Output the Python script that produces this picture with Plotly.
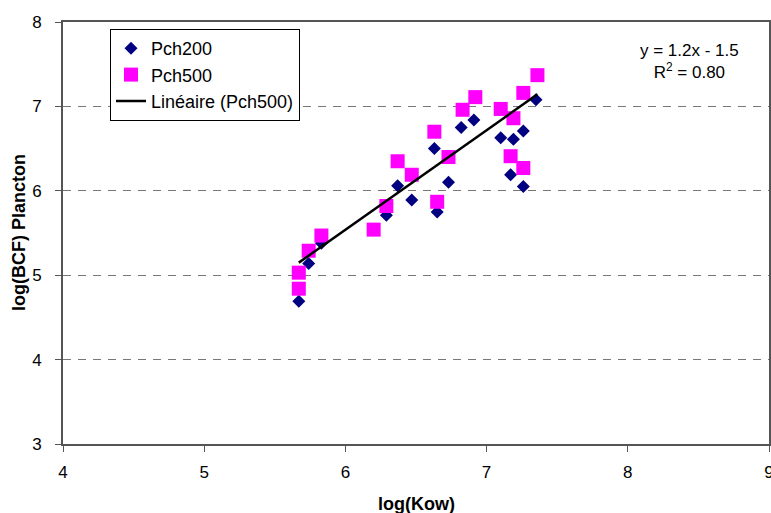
import numpy as np
import plotly.graph_objects as go

# Data
pch200_x = [5.67, 5.74, 5.83, 6.29, 6.37, 6.47, 6.63, 6.65, 6.73, 6.82, 6.91,
            7.10, 7.19, 7.26, 7.17, 7.26, 7.35]
pch200_y = [4.69, 5.14, 5.38, 5.71, 6.06, 5.89, 6.50, 5.75, 6.10, 6.75, 6.84,
            6.63, 6.61, 6.71, 6.19, 6.05, 7.08]

pch500_x = [5.67, 5.67, 5.74, 5.83, 6.20, 6.29, 6.37, 6.47, 6.63, 6.65, 6.73,
            6.83, 6.92, 7.10, 7.19, 7.26, 7.17, 7.26, 7.36]
pch500_y = [5.03, 4.84, 5.29, 5.47, 5.54, 5.82, 6.35, 6.19, 6.70, 5.87, 6.40,
            6.96, 7.11, 6.97, 6.86, 7.16, 6.41, 6.27, 7.37]

x_ticks = [4, 5, 6, 7, 8, 9]
y_ticks = [3, 4, 5, 6, 7, 8]

# Linear trendline on Pch500
slope, intercept = np.polyfit(pch500_x, pch500_y, 1)
fit_x = np.array([min(pch500_x), max(pch500_x)])
fit_y = slope * fit_x + intercept

FONT = "Arial, Liberation Sans, sans-serif"

# plot area geometry (pixels)
L, R, T, B = 63, 769, 22, 444
W, H = R - L, B - T

fig = go.Figure()
fig.add_trace(go.Scatter(
    x=pch200_x, y=pch200_y, mode="markers", name="Pch200", legendgroup="a",
    marker=dict(symbol="diamond", size=10, color="#000080"),
))
fig.add_trace(go.Scatter(
    x=pch500_x, y=pch500_y, mode="markers", name="Pch500", legendgroup="b",
    marker=dict(symbol="square", size=14, color="#FF00FF"),
))
fig.add_trace(go.Scatter(
    x=fit_x, y=fit_y, mode="lines", name="Linéaire (Pch500)", legendgroup="c",
    line=dict(color="black", width=2.5),
))

# Equation annotation
fig.add_annotation(
    xref="paper", yref="paper", x=(689 - L) / W, y=(B - 62) / H,
    xanchor="center", yanchor="middle", showarrow=False,
    text="y = 1.2x - 1.5<br>R<sup>2</sup> = 0.80", align="center",
    font=dict(family=FONT, size=17, color="black"),
)
# Axis titles
fig.add_annotation(
    xref="paper", yref="paper", x=0.5, y=(B - 504) / H,
    xanchor="center", yanchor="middle", showarrow=False,
    text="<b>log(Kow)</b>", font=dict(family=FONT, size=18, color="black"),
)
fig.add_annotation(
    xref="paper", yref="paper", x=(19 - L) / W, y=0.5,
    xanchor="center", yanchor="middle", showarrow=False, textangle=-90,
    text="<b>log(BCF) Plancton</b>", font=dict(family=FONT, size=18, color="black"),
)

fig.update_layout(
    width=771, height=513,
    margin=dict(l=L, r=771 - R, t=T, b=513 - B, autoexpand=False),
    paper_bgcolor="white", plot_bgcolor="white",
    font=dict(family=FONT, size=17, color="black"),
    showlegend=True,
    legend=dict(
        x=(110 - L) / W, y=(B - 29) / H, xanchor="left", yanchor="top",
        bgcolor="white", bordercolor="black", borderwidth=1,
        font=dict(family=FONT, size=18, color="black"),
        tracegroupgap=1, traceorder="normal",
    ),
    xaxis=dict(
        range=[4, 9], tickvals=x_ticks, ticktext=[str(v) for v in x_ticks],
        showgrid=False, zeroline=False, automargin=False,
        showline=True, linecolor="#555555", linewidth=2, mirror=True,
        ticks="outside", ticklen=6, tickcolor="#555555",
        ticklabelstandoff=6, ticklabeloverflow="allow",
    ),
    yaxis=dict(
        range=[3, 8], tickvals=y_ticks, ticktext=[str(v) for v in y_ticks],
        showgrid=True, gridcolor="#777777", griddash="8px,7px", gridwidth=1,
        zeroline=False, automargin=False,
        showline=True, linecolor="#555555", linewidth=2, mirror=True,
        ticks="outside", ticklen=6, tickcolor="#555555",
        ticklabelstandoff=10,
    ),
)

fig.write_html(
    "out.html",
    config={"displayModeBar": False},
    post_script="document.body.style.margin='0';document.body.style.overflow='hidden';",
)
